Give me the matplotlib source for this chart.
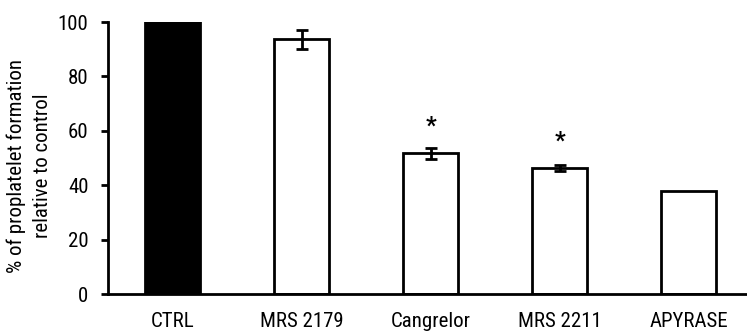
import matplotlib.pyplot as plt
import numpy as np

plt.rcParams['font.family'] = ['Roboto Condensed', 'Archivo Narrow', 'Liberation Sans', 'DejaVu Sans']

# data
categories = ['CTRL', 'MRS 2179', 'Cangrelor', 'MRS 2211', 'APYRASE']
values = [100, 93.7, 51.8, 46.3, 38.0]
errors = [0, 3.5, 2.0, 1.2, 0]
stars = [False, False, True, True, False]
colors = ['black', 'white', 'white', 'white', 'white']

fig = plt.figure(figsize=(7.47, 3.34), dpi=100)
ax = fig.add_axes([108 / 747, 40 / 334, 1 - 108 / 747, 272 / 334])

x = np.arange(len(categories))
ax.bar(x, values, width=0.426, color=colors, edgecolor='black', linewidth=2, zorder=2)
for xi, v, e in zip(x, values, errors):
    if e > 0:
        ax.errorbar(xi, v, yerr=e, fmt='none', ecolor='black', elinewidth=2,
                    capsize=4, capthick=2, zorder=3, clip_on=False)
for xi, v, s in zip(x, values, stars):
    if s:
        ax.text(xi, v + 10, '*', ha='center', va='center', fontsize=17, fontweight='bold')

ax.set_xlim(-0.5, 4.45)
ax.set_ylim(0, 100)
ax.set_yticks([0, 20, 40, 60, 80, 100])
ax.set_xticks(x)
ax.set_xticklabels(categories, fontsize=15)
ax.tick_params(axis='y', labelsize=15, width=2, length=5, direction='out', pad=9)
ax.tick_params(axis='x', length=0, pad=13)
for sp in ['top', 'right']:
    ax.spines[sp].set_visible(False)
for sp in ['left', 'bottom']:
    ax.spines[sp].set_linewidth(2)
ax.set_ylabel('% of proplatelet formation\nrelative to control', fontsize=15,
              linespacing=1.45)
ax.yaxis.set_label_coords(-0.088, 0.47)

fig.savefig('out.png', dpi=100)
